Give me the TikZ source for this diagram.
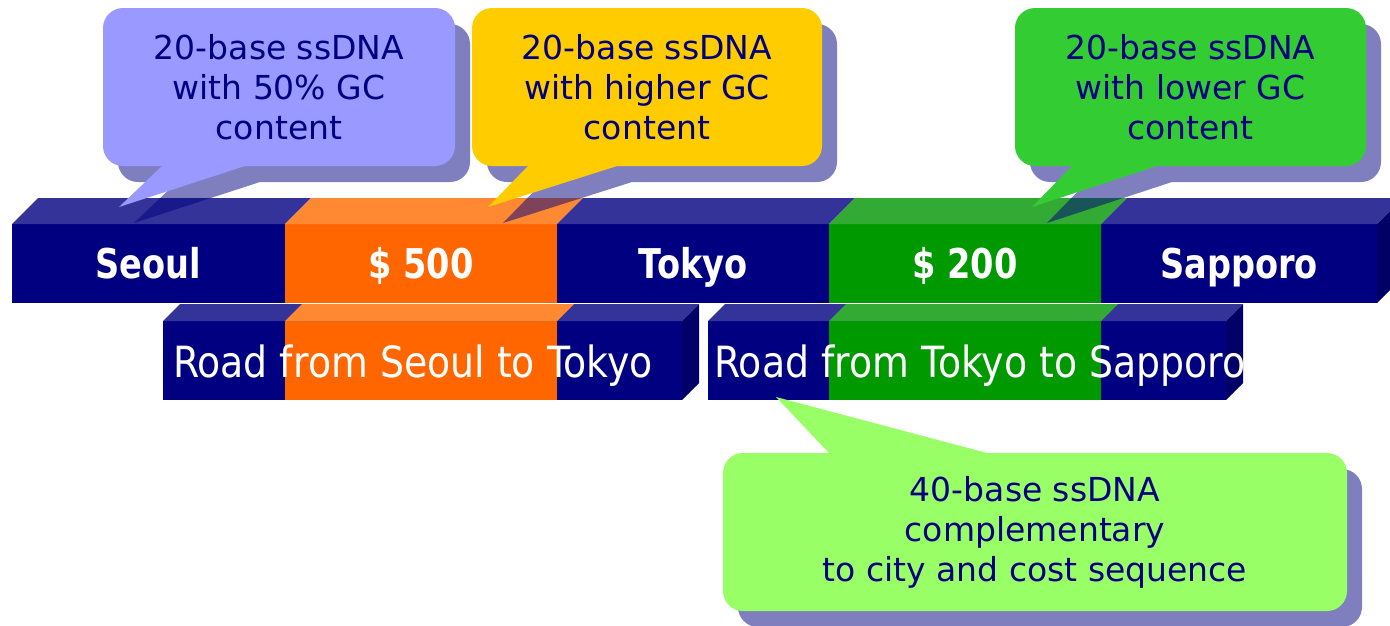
\documentclass[tikz,border=0pt]{standalone}
\usepackage{fontspec}
\setmainfont{DejaVu Sans}
\newfontfamily\labfont{DejaVu Sans}[FakeStretch=0.82]
\newfontfamily\roadfont{DejaVu Sans}[FakeStretch=0.88]
\definecolor{navyF}{HTML}{000080}
\definecolor{navyT}{HTML}{333399}
\definecolor{navyS}{HTML}{000066}
\definecolor{orF}{HTML}{FF6600}
\definecolor{orT}{HTML}{FF8833}
\definecolor{grF}{HTML}{009900}
\definecolor{grT}{HTML}{33AA33}
\definecolor{cLav}{HTML}{9999FF}
\definecolor{cYel}{HTML}{FFCC00}
\definecolor{cGrn}{HTML}{33CC33}
\definecolor{cLgr}{HTML}{99FF66}
\pgfdeclarelayer{bg}
\pgfdeclarelayer{mid}
\pgfsetlayers{bg,mid,main}
\tikzset{
  seg/.style={rectangle, inner sep=0pt, outer sep=0pt, anchor=north west,
    minimum width=272pt, minimum height=79pt, text=white,
    font=\labfont\bfseries\fontsize{41}{41}\selectfont, text height=30pt, text depth=0pt},
  lowbar/.style={rectangle, inner sep=0pt, outer sep=0pt, anchor=north west,
    minimum height=79pt, fill=navyF},
  roadtext/.style={text=white, font=\roadfont\fontsize{43}{43}\selectfont,
    inner sep=0pt, text height=31pt, text depth=0pt},
  callout/.style={rectangle, rounded corners=20pt, inner sep=0pt, outer sep=0pt,
    anchor=north west, minimum width=352pt, minimum height=158pt, text=navyF,
    align=center, font=\fontsize{33}{40}\selectfont},
  shade/.style={fill=navyF, fill opacity=0.5},
}
\begin{document}
\begin{tikzpicture}[x=1pt,y=-1pt]
\useasboundingbox (0,0) rectangle (1390,625);

\begin{pgfonlayer}{bg}
% upper bar
\node[seg, fill=navyF, minimum width=273pt] (seoul) at (12,224) {Seoul};
\node[seg, fill=orF] (d500) at (seoul.north east) {\$ 500};
\node[seg, fill=navyF] (tokyo) at (d500.north east) {Tokyo};
\node[seg, fill=grF] (d200) at (tokyo.north east) {\$ 200};
\node[seg, fill=navyF, minimum width=276pt] (sapporo) at (d200.north east) {Sapporo};
\foreach \n/\c in {seoul/navyT, d500/orT, tokyo/navyT, d200/grT, sapporo/navyT}{
  \fill[\c] (\n.north west) -- ++(26,-26) -- ([shift={(26,-26)}]\n.north east) -- (\n.north east) -- cycle;
}
\fill[navyS] (sapporo.north east) -- ++(26,-26) -- ++(0,79) -- (sapporo.south east) -- cycle;

% lower bars
\node[lowbar, minimum width=519pt] (road1) at (163,321) {};
\node[lowbar, minimum width=518pt] (road2) at (708,321) {};
\coordinate (o1) at (d500.south west |- road1.north);
\coordinate (o2) at (d500.south east |- road1.north);
\coordinate (g1) at (d200.south west |- road2.north);
\coordinate (g2) at (d200.south east |- road2.north);
\fill[orF] (o1) rectangle (d500.south east |- road1.south);
\fill[grF] (g1) rectangle (d200.south east |- road2.south);
\foreach \n in {road1, road2}{
  \fill[navyT] (\n.north west) -- ++(17,-17) -- ([shift={(17,-17)}]\n.north east) -- (\n.north east) -- cycle;
  \fill[navyS] (\n.north east) -- ++(17,-17) -- ++(0,79) -- (\n.south east) -- cycle;
}
\fill[orT] (o1) -- ++(17,-17) -- ([shift={(17,-17)}]o2) -- (o2) -- cycle;
\fill[grT] (g1) -- ++(17,-17) -- ([shift={(17,-17)}]g2) -- (g2) -- cycle;
\node[roadtext] (rt1) at (413,362) {Road from Seoul to Tokyo};
\node[roadtext] (rt2) at (980,362) {Road from Tokyo to Sapporo};
\end{pgfonlayer}

% callouts
\node[callout, fill=cLav] (c1) at (103,8) {20-base ssDNA\\with 50\% GC\\content};
\node[callout, fill=cYel, minimum width=350pt] (c2) at (472,8) {20-base ssDNA\\with higher GC\\content};
\node[callout, fill=cGrn, minimum width=351pt] (c3) at (1015,8) {20-base ssDNA\\with lower GC\\content};
\node[callout, fill=cLgr, minimum width=624pt] (c4) at (723,453) {40-base ssDNA\\complementary\\to city and cost sequence};

\coordinate (t1) at (119,207);
\coordinate (t2) at (488,207);
\coordinate (t3) at (1032,207);
\coordinate (t4) at (776,397);

\fill[cLav] ([shift={(59,-8)}]c1.south west) -- ([xshift=59pt]c1.south west) -- (t1) -- ([xshift=142pt]c1.south west) -- ([shift={(142,-8)}]c1.south west) -- cycle;
\fill[cYel] ([shift={(56,-8)}]c2.south west) -- ([xshift=56pt]c2.south west) -- (t2) -- ([xshift=145pt]c2.south west) -- ([shift={(145,-8)}]c2.south west) -- cycle;
\fill[cGrn] ([shift={(57,-8)}]c3.south west) -- ([xshift=57pt]c3.south west) -- (t3) -- ([xshift=142pt]c3.south west) -- ([shift={(142,-8)}]c3.south west) -- cycle;
\fill[cLgr] ([shift={(106,8)}]c4.north west) -- ([xshift=106pt]c4.north west) -- (t4) -- ([xshift=264pt]c4.north west) -- ([shift={(264,8)}]c4.north west) -- cycle;

% shadows
\begin{pgfonlayer}{mid}
\fill[shade, rounded corners=20pt] ([shift={(15,16)}]c1.north west) rectangle ([shift={(15,16)}]c1.south east)
  [sharp corners] ([shift={(74,8)}]c1.south west) -- ([shift={(74,16)}]c1.south west) -- ([shift={(15,16)}]t1) -- ([shift={(157,16)}]c1.south west) -- ([shift={(157,8)}]c1.south west) -- cycle;
\fill[shade, rounded corners=20pt] ([shift={(15,16)}]c2.north west) rectangle ([shift={(15,16)}]c2.south east)
  [sharp corners] ([shift={(71,8)}]c2.south west) -- ([shift={(71,16)}]c2.south west) -- ([shift={(15,16)}]t2) -- ([shift={(160,16)}]c2.south west) -- ([shift={(160,8)}]c2.south west) -- cycle;
\fill[shade, rounded corners=20pt] ([shift={(15,16)}]c3.north west) rectangle ([shift={(15,16)}]c3.south east)
  [sharp corners] ([shift={(72,8)}]c3.south west) -- ([shift={(72,16)}]c3.south west) -- ([shift={(15,16)}]t3) -- ([shift={(157,16)}]c3.south west) -- ([shift={(157,8)}]c3.south west) -- cycle;
\fill[shade, rounded corners=20pt] ([shift={(15,16)}]c4.north west) rectangle ([shift={(15,16)}]c4.south east);
\end{pgfonlayer}
\end{tikzpicture}
\end{document}
